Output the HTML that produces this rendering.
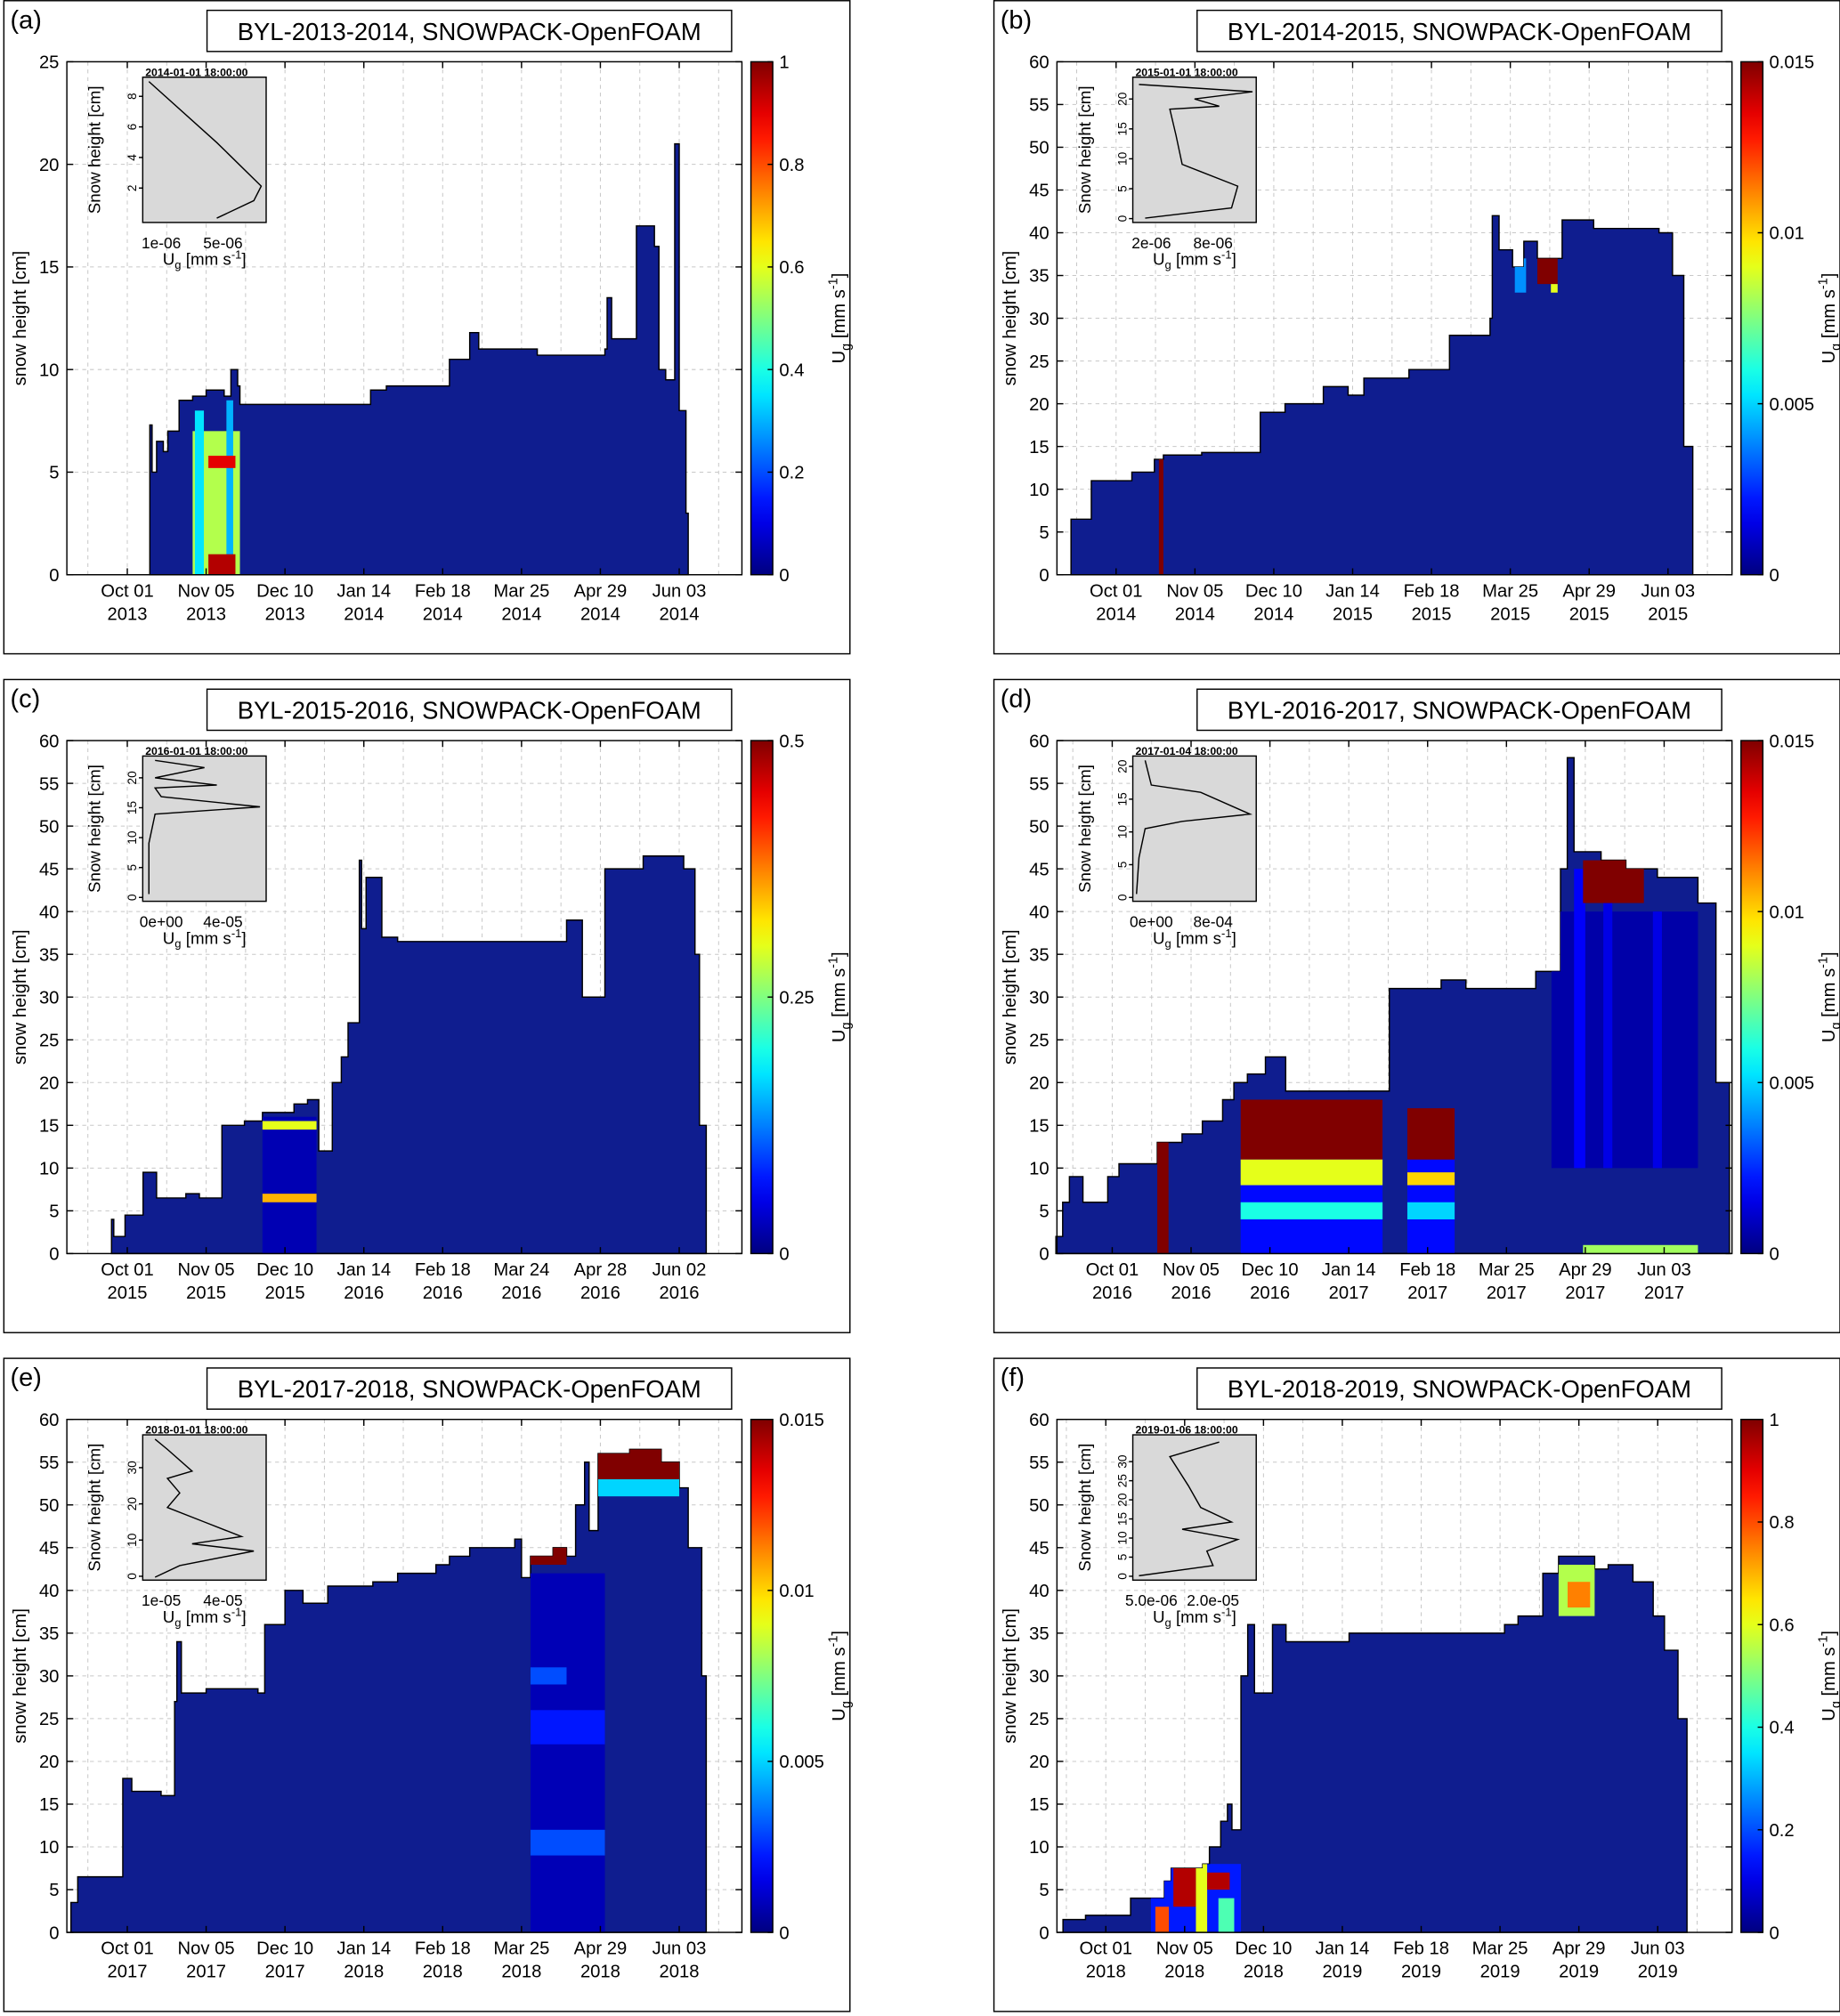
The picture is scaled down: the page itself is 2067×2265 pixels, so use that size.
<!DOCTYPE html>
<html><head><meta charset="utf-8"><style>
html,body{margin:0;padding:0;background:#fff}
svg{display:block;font-family:"Liberation Sans","DejaVu Sans",sans-serif}
</style></head><body>
<svg id="fig" width="2067" height="2265" viewBox="0 0 1431 1568" xmlns="http://www.w3.org/2000/svg"></svg>
<script>
// ---- data (days relative to Oct 01, snow height cm) ----
const aDays=[10,11,13,16,18,23,29,35,43,46,49,50,108,115,143,152,156,182,212,213,215,226,234,236,239,243,245,248,249];
const aSnow=[7.3,5,6.5,6,7,8.5,8.7,9,8.7,10,9.2,8.3,9,9.2,10.5,11.8,11,10.7,11,13.5,11.5,17,16,10,9.5,21,8,3,0];
const aHot=[[29,50,0,7,0.55],[30,34,0,8,0.35],[44,47,0,8.5,0.3],[36,48,0,1,0.95],[36,48,5.2,5.8,0.9]];
const bDays=[-20,-11,7,17,21,38,64,75,92,103,110,130,148,166,167,170,176,181,187,196,198,212,241,247,252,256];
const bSnow=[6.5,11,12,13.5,14,14.3,19,20,22,21,23,24,28,30,42,38,36,39,37,37,41.5,40.5,40,35,15,0];
const bHot=[[19,21,0,13.5,0.015],[177,182,33,37,0.004],[187,196,34,37,0.015],[193,196,33,34,0.009]];
const cDays=[-7,-6,-1,7,13,26,32,42,52,60,74,80,85,91,95,98,103,104,106,113,120,195,202,212,229,247,252,254,257];
const cSnow=[4,2,4.5,9.5,6.5,7,6.5,15,15.5,16.5,17.5,18,12,20,23,27,46,38,44,37,36.5,39,30,45,46.5,45,35,15,0];
const cHot=[[60,84,0,16,0.025],[60,84,6,7,0.35],[60,84,14.5,15.5,0.3]];
const dDays=[-25,-22,-19,-13,-2,3,20,31,40,49,54,60,68,77,123,146,157,188,199,202,205,217,228,242,260,268,274];
const dSnow=[2,6,9,6,9,10.5,13,14,15.5,18,20,21,23,19,31,32,31,33,45,58,47,46,45,44,41,20,0];
const dHot=[[195,260,10,40,0.0006],[205,210,10,45,0.0018],[218,222,10,45,0.0015],[240,244,10,40,0.0015],[20,25,0,13,0.015],[57,120,0,18,0.002],[57,120,11,18,0.015],[57,120,8,11,0.009],[57,120,4,6,0.006],[131,152,0,17,0.002],[131,152,11,17,0.015],[131,152,8,9.5,0.01],[131,152,4,6,0.005],[209,236,41,46,0.015],[209,260,0,1,0.008]];
const eDays=[-25,-22,-2,2,15,21,22,24,35,58,61,70,78,89,109,120,137,143,152,172,175,179,189,195,199,203,205,209,223,237,245,249,255,257];
const eSnow=[3.5,6.5,18,16.5,16,27,34,28,28.5,28,36,40,38.5,40.5,41,42,43,44,45,46,41.5,44,45,44,50,55,47,56,56.5,55,52,45,30,0];
const eHot=[[179,212,0,42,0.0008],[179,195,29,31,0.003],[179,212,22,26,0.0022],[179,212,9,12,0.003],[179,195,43,45,0.015],[209,245,53,56.5,0.015],[209,245,51,53,0.005]];
const fDays=[-19,-9,11,26,29,43,46,51,54,56,60,63,66,74,80,108,177,183,194,201,217,223,234,243,248,254,258];
const fSnow=[1.5,2,4,6,7.5,8,10,13,15,12,30,36,28,36,34,35,36,37,42,44,42.5,43,41,37,33,25,0];
const fHot=[[20,60,0,8,0.15],[22,28,0,3,0.8],[30,40,3,8,0.95],[40,45,0,8,0.6],[45,55,5,7,0.95],[50,57,0,4,0.45],[201,217,37,43,0.55],[205,215,38,41,0.75]];
const tickMonths=["Oct 01","Nov 05","Dec 10","Jan 14","Feb 18","Mar 25","Apr 29","Jun 03"];
const tickMonthsLeap=["Oct 01","Nov 05","Dec 10","Jan 14","Feb 18","Mar 24","Apr 28","Jun 02"];
const insetA=[[0.05,0.97],[0.6,0.55],[0.96,0.25],[0.9,0.15],[0.6,0.03]];
const insetB=[[0.05,0.95],[0.97,0.9],[0.5,0.85],[0.7,0.8],[0.3,0.78],[0.35,0.6],[0.4,0.4],[0.55,0.35],[0.85,0.25],[0.8,0.1],[0.1,0.03]];
const insetC=[[0.1,0.97],[0.5,0.92],[0.1,0.85],[0.6,0.8],[0.1,0.78],[0.15,0.72],[0.95,0.65],[0.1,0.6],[0.05,0.4],[0.05,0.05]];
const insetD=[[0.1,0.97],[0.15,0.8],[0.55,0.75],[0.95,0.6],[0.4,0.55],[0.1,0.5],[0.05,0.3],[0.03,0.05]];
const insetE=[[0.1,0.97],[0.2,0.9],[0.4,0.75],[0.2,0.7],[0.3,0.6],[0.2,0.5],[0.5,0.4],[0.8,0.3],[0.4,0.25],[0.9,0.2],[0.3,0.1],[0.1,0.02]];
const insetF=[[0.7,0.95],[0.3,0.85],[0.45,0.65],[0.55,0.5],[0.8,0.4],[0.4,0.35],[0.85,0.28],[0.6,0.2],[0.65,0.1],[0.05,0.03]];

const panels=[
 {id:"a",ox:0,oy:0,oct:99,ymax:25,ystep:5,days:aDays,snow:aSnow,hot:aHot,vmax:1,cb:["0","0.2","0.4","0.6","0.8","1"],y1:2013,y2:2014,months:tickMonths,title:"BYL-2013-2014, SNOWPACK-OpenFOAM",ins:insetA,insDate:"2014-01-01 18:00:00",insY:[[2,9],[4,9],[6,9],[8,9]],insX:["1e-06","5e-06"]},
 {id:"b",ox:770,oy:0,oct:98,ymax:60,ystep:5,days:bDays,snow:bSnow,hot:bHot,vmax:0.015,cb:["0","0.005","0.01","0.015"],y1:2014,y2:2015,months:tickMonths,title:"BYL-2014-2015, SNOWPACK-OpenFOAM",ins:insetB,insDate:"2015-01-01 18:00:00",insY:[[0,23],[5,23],[10,23],[15,23],[20,23]],insX:["2e-06","8e-06"]},
 {id:"c",ox:0,oy:528,oct:99,ymax:60,ystep:5,days:cDays,snow:cSnow,hot:cHot,vmax:0.5,cb:["0","0.25","0.5"],y1:2015,y2:2016,months:tickMonthsLeap,title:"BYL-2015-2016, SNOWPACK-OpenFOAM",ins:insetC,insDate:"2016-01-01 18:00:00",insY:[[0,23],[5,23],[10,23],[15,23],[20,23]],insX:["0e+00","4e-05"]},
 {id:"d",ox:770,oy:528,oct:95,ymax:60,ystep:5,days:dDays,snow:dSnow,hot:dHot,vmax:0.015,cb:["0","0.005","0.01","0.015"],y1:2016,y2:2017,months:tickMonths,title:"BYL-2016-2017, SNOWPACK-OpenFOAM",ins:insetD,insDate:"2017-01-04 18:00:00",insY:[[0,21],[5,21],[10,21],[15,21],[20,21]],insX:["0e+00","8e-04"]},
 {id:"e",ox:0,oy:1056,oct:99,ymax:60,ystep:5,days:eDays,snow:eSnow,hot:eHot,vmax:0.015,cb:["0","0.005","0.01","0.015"],y1:2017,y2:2018,months:tickMonths,title:"BYL-2017-2018, SNOWPACK-OpenFOAM",ins:insetE,insDate:"2018-01-01 18:00:00",insY:[[0,38],[10,38],[20,38],[30,38]],insX:["1e-05","4e-05"]},
 {id:"f",ox:770,oy:1056,oct:90,ymax:60,ystep:5,days:fDays,snow:fSnow,hot:fHot,vmax:1,cb:["0","0.2","0.4","0.6","0.8","1"],y1:2018,y2:2019,months:tickMonths,title:"BYL-2018-2019, SNOWPACK-OpenFOAM",ins:insetF,insDate:"2019-01-06 18:00:00",insY:[[0,36],[5,36],[10,36],[15,36],[20,36],[25,36],[30,36]],insX:["5.0e-06","2.0e-05"]}
];

const NS="http://www.w3.org/2000/svg";
const fig=document.getElementById('fig');
function mk(tag,attrs,parent,txt){const e=document.createElementNS(NS,tag);for(const k in attrs)e.setAttribute(k,attrs[k]);if(txt!==undefined)e.textContent=txt;(parent||fig).appendChild(e);return e;}
function jet(v){v=Math.max(0,Math.min(1,v));
 const r=Math.min(Math.max(Math.min(4*v-1.5,-4*v+4.5),0),1),g=Math.min(Math.max(Math.min(4*v-0.5,-4*v+3.5),0),1),b=Math.min(Math.max(Math.min(4*v+0.5,-4*v+2.5),0),1);
 return `rgb(${Math.round(r*255)},${Math.round(g*255)},${Math.round(b*255)})`;}
const defs=mk('defs',{});
const grad=mk('linearGradient',{id:'jetg',x1:0,y1:1,x2:0,y2:0},defs);
for(let i=0;i<=20;i++)mk('stop',{offset:i/20,'stop-color':jet(i/20)},grad);

const PL=52,PR=577,PT=48,PB=447,PXD=1.752;
panels.forEach(p=>{
 const g=mk('g',{transform:`translate(${p.ox},${p.oy})`});
 
 
 const fr=mk('rect',{x:3,y:0.5,width:658,height:508,fill:'none',stroke:'#000','stroke-width':1},g);
 
 const xs=d=>p.oct+d*PXD, ys=h=>PB-(h/p.ymax)*(PB-PT);
 for(let k=-1;k<=17;k++){const x=xs(k*17.5);if(x<=PL||x>=PR)continue;
  mk('line',{x1:x,x2:x,y1:PT,y2:PB,stroke:'#c8c8c8','stroke-width':0.7,'stroke-dasharray':'3,3'},g);}
 for(let h=p.ystep;h<p.ymax;h+=p.ystep){mk('line',{x1:PL,x2:PR,y1:ys(h),y2:ys(h),stroke:'#c8c8c8','stroke-width':0.7,'stroke-dasharray':'3,3'},g);}
 let d=`M${xs(p.days[0])},${ys(0)}`;
 for(let i=0;i<p.days.length;i++){d+=` L${xs(p.days[i])},${ys(p.snow[i])}`;if(i<p.days.length-1)d+=` L${xs(p.days[i+1])},${ys(p.snow[i])}`;}
 d+=` L${xs(p.days[p.days.length-1])},${ys(0)} Z`;
 const cp=mk('clipPath',{id:'clip'+p.id},defs);mk('path',{d:d},cp);
 const sp=mk('path',{d:d,fill:'#0f1d8f',stroke:'#000','stroke-width':1},g);
 
 const hg=mk('g',{'clip-path':`url(#clip${p.id})`},g);
 p.hot.forEach(r=>{const el=mk('rect',{x:xs(r[0]),width:(r[1]-r[0])*PXD,y:ys(r[3]),height:ys(r[2])-ys(r[3]),fill:jet(r[4]/p.vmax)},hg);
  });
 mk('rect',{x:PL,y:PT,width:PR-PL,height:PB-PT,fill:'none',stroke:'#000','stroke-width':1},g);
 for(let h=0;h<=p.ymax;h+=p.ystep){const y=ys(h);
  mk('line',{x1:PL,x2:PL+5,y1:y,y2:y,stroke:'#000'},g);mk('line',{x1:PR-5,x2:PR,y1:y,y2:y,stroke:'#000'},g);
  const t=mk('text',{x:PL-6,y:y+5,'font-size':14,'text-anchor':'end'},g,String(h));}
 p.months.forEach((m,i)=>{const x=xs(i*35);
  mk('line',{x1:x,x2:x,y1:PB,y2:PB-5,stroke:'#000'},g);mk('line',{x1:x,x2:x,y1:PT,y2:PT+5,stroke:'#000'},g);
  const t=mk('text',{x:x,y:PB+17,'font-size':14,'text-anchor':'middle'},g,m);
  const t2=mk('text',{x:x,y:PB+35,'font-size':14,'text-anchor':'middle'},g,String(i<3?p.y1:p.y2));});
 const yl=mk('text',{transform:`translate(20,${(PT+PB)/2}) rotate(-90)`,'font-size':14,'text-anchor':'middle'},g,'snow height [cm]');
 
 const tb=mk('rect',{x:161,y:8,width:408,height:32,fill:'#fff',stroke:'#000','stroke-width':1},g);
 
 const tt=mk('text',{x:365,y:31,'font-size':19,'text-anchor':'middle'},g,p.title);
 const pl=mk('text',{x:8,y:22,'font-size':20},g,'('+p.id+')');
 const cb=mk('rect',{x:584,y:PT,width:17,height:PB-PT,fill:'url(#jetg)',stroke:'#000','stroke-width':1},g);
 
 p.cb.forEach((l,i)=>{const y=PB-(parseFloat(l)/p.vmax)*(PB-PT);
  mk('line',{x1:597,x2:601,y1:y,y2:y,stroke:'#000'},g);
  const t=mk('text',{x:606,y:y+5,'font-size':14},g,l);});
 const cl=mk('text',{transform:`translate(657,${(PT+PB)/2}) rotate(-90)`,'font-size':14,'text-anchor':'middle'},g);
 
 cl.innerHTML='U<tspan font-size="10" dy="4">g</tspan><tspan dy="-4"> [mm s</tspan><tspan font-size="10" dy="-6">-1</tspan><tspan dy="6">]</tspan>';
 const IX=111,IY=60,IW=96,IH=113;
 const ib=mk('rect',{x:IX,y:IY,width:IW,height:IH,fill:'#d9d9d9',stroke:'#000','stroke-width':1},g);
 
 const it=mk('text',{x:IX+2,y:IY-1,'font-size':8.5,'font-weight':'bold'},g,p.insDate);
 const ip=mk('polyline',{points:p.ins.map(q=>`${IX+q[0]*IW},${IY+IH-q[1]*IH}`).join(' '),fill:'none',stroke:'#000','stroke-width':1},g);
 
 p.insY.forEach(q=>{const y=IY+IH-3-(q[0]/q[1])*(IH-6);
  mk('line',{x1:IX,x2:IX-3,y1:y,y2:y,stroke:'#000'},g);
  const t=mk('text',{transform:`translate(${IX-5},${y}) rotate(-90)`,'font-size':9.5,'text-anchor':'middle'},g,String(q[0]));});
 p.insX.forEach((l,i)=>{const x=IX+IW*(0.15+0.5*i);
  const t=mk('text',{x:x,y:IY+IH+20,'font-size':12,'text-anchor':'middle'},g,l);});
 const iy=mk('text',{transform:`translate(${IX-33},${IY+IH/2}) rotate(-90)`,'font-size':13,'text-anchor':'middle'},g,'Snow height [cm]');
 
 const ix=mk('text',{x:IX+IW/2,y:IY+IH+33,'font-size':13,'text-anchor':'middle'},g);
 
 ix.innerHTML='U<tspan font-size="9" dy="3">g</tspan><tspan dy="-3"> [mm s</tspan><tspan font-size="9" dy="-5">-1</tspan><tspan dy="5">]</tspan>';
});
</script>
</body></html>
